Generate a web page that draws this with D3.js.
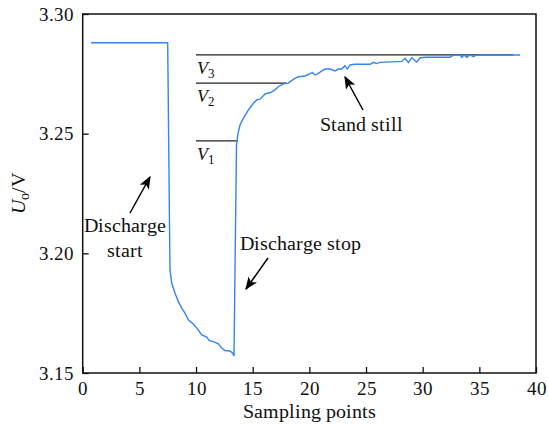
<!DOCTYPE html>
<html>
<head>
<meta charset="utf-8">
<script src="https://cdn.jsdelivr.net/npm/d3@7"></script>
<style>
  @font-face { font-family: "ChartSerif"; font-style: normal; font-weight: 400;
    src: local("Liberation Serif"), local("LiberationSerif"), local("Tinos"), local("Times New Roman"); }
  @font-face { font-family: "ChartSerif"; font-style: italic; font-weight: 400;
    src: local("Liberation Serif Italic"), local("LiberationSerif-Italic"), local("Tinos Italic"), local("Times New Roman Italic"); }
  body { margin: 0; background: #fff; }
  #chart text { font-family: ChartSerif, "Liberation Serif", serif; }
</style>
</head>
<body>
<svg id="chart" width="548" height="425"></svg>
<script>
// sampled voltage curve (x = sampling point, v = volts)
var sampleX = [0.73, 7.50, 7.70, 7.86, 8.15, 8.44, 8.74, 9.03, 9.32, 9.76, 10.20, 10.50, 10.94, 11.17, 11.53, 11.97,
  12.27, 12.56, 13.00, 13.24, 13.35, 13.57, 13.70, 13.88, 14.17, 14.62, 15.06, 15.36, 15.65, 16.09, 16.53, 16.97,
  17.26, 17.71, 18.15, 18.59, 19.03, 19.62, 19.97, 20.27, 20.50, 20.80, 21.10, 21.39, 21.83, 22.27, 22.56, 22.86,
  23.15, 23.35, 23.59, 24.03, 25.36, 25.65, 25.93, 26.24, 28.16, 28.45, 28.74, 29.04, 29.48, 29.77, 30.36, 32.42,
  32.71, 33.30, 33.45, 33.65, 33.89, 34.18, 34.47, 34.77, 38.60];
var voltage = [3.2880, 3.2880, 3.1931, 3.1875, 3.1833, 3.1798, 3.1771, 3.1750, 3.1722, 3.1705, 3.1680, 3.1659, 3.1650, 3.1635, 3.1631, 3.1622,
  3.1604, 3.1594, 3.1592, 3.1583, 3.1571, 3.2453, 3.2500, 3.2536, 3.2564, 3.2599, 3.2627, 3.2641, 3.2644, 3.2666, 3.2671, 3.2683,
  3.2696, 3.2708, 3.2711, 3.2727, 3.2738, 3.2741, 3.2749, 3.2755, 3.2745, 3.2752, 3.2762, 3.2770, 3.2770, 3.2762, 3.2770, 3.2770,
  3.2784, 3.2770, 3.2787, 3.2790, 3.2790, 3.2798, 3.2793, 3.2798, 3.2802, 3.2815, 3.2797, 3.2817, 3.2799, 3.2817, 3.2819, 3.2819,
  3.2829, 3.2829, 3.2819, 3.2829, 3.2819, 3.2829, 3.2822, 3.2829, 3.2829];

// reference levels V1..V3
var refNames = ["1", "2", "3"];
var refLevel = [3.2470, 3.2711, 3.2829];
var refStart = [10.0, 10.0, 10.0];
var refEnd = [13.7, 18.0, 38.0];

var xTicks = [0, 5, 10, 15, 20, 25, 30, 35, 40];
var yTicks = [3.15, 3.20, 3.25, 3.30];

var W = 548, H = 425;
var m = { left: 82.7, right: W - 536, top: 14, bottom: H - 373 };

var svg = d3.select("#chart");
var x = d3.scaleLinear().domain([0, 40]).range([m.left, W - m.right]);
var y = d3.scaleLinear().domain([3.15, 3.30]).range([H - m.bottom, m.top]);

// frame
svg.append("rect")
  .attr("x", x(0)).attr("y", y(3.30))
  .attr("width", x(40) - x(0)).attr("height", y(3.15) - y(3.30))
  .style("fill", "none").style("stroke", "#111").style("stroke-width", 1.5);

var xAxis = svg.append("g")
  .attr("transform", "translate(0," + y(3.15) + ")")
  .call(d3.axisBottom(x).tickValues(xTicks).tickSize(-6).tickPadding(9).tickFormat(d3.format("d")));
var yAxis = svg.append("g")
  .attr("transform", "translate(" + x(0) + ",0)")
  .call(d3.axisLeft(y).tickValues(yTicks).tickSize(-6).tickPadding(9).tickFormat(d3.format(".2f")));
[xAxis, yAxis].forEach(function(a) {
  a.attr("font-family", null).attr("font-size", null);
  a.select(".domain").remove();
  a.selectAll(".tick line").style("stroke", "#111").style("stroke-width", 1.3);
  a.selectAll(".tick text").style("font-size", "19px").attr("fill", "#111");
});

// reference lines
refLevel.forEach(function(v, i) {
  svg.append("line")
    .attr("x1", x(refStart[i])).attr("x2", x(refEnd[i]))
    .attr("y1", y(v)).attr("y2", y(v))
    .style("stroke", "#222").style("stroke-width", 1.3);
  var t = svg.append("text")
    .attr("x", x(refStart[i]) + 1).attr("y", y(v) + 19)
    .style("font-size", "18px").attr("fill", "#111");
  t.append("tspan").style("font-style", "italic").text("V");
  t.append("tspan").attr("dy", 4).style("font-size", "13px").text(refNames[i]);
});

// curve
var line = d3.line().x(function(d) { return x(d[0]); }).y(function(d) { return y(d[1]); });
svg.append("path")
  .datum(d3.zip(sampleX, voltage))
  .attr("d", line)
  .style("fill", "none").style("stroke", "#3584f2").style("stroke-width", 1.4);

// arrows
svg.append("defs").append("marker")
  .attr("id", "head").attr("viewBox", "0 0 10 10")
  .attr("refX", 9).attr("refY", 5)
  .attr("markerWidth", 13).attr("markerHeight", 13).attr("markerUnits", "userSpaceOnUse")
  .attr("orient", "auto")
  .append("path").attr("d", "M0,1 L10,5 L0,9 L2.5,5 Z").style("fill", "#000");

var arrows = [[130, 213, 150, 177], [268, 258, 246, 289], [363, 110, 345, 77]];
arrows.forEach(function(a) {
  svg.append("line")
    .attr("x1", a[0]).attr("y1", a[1]).attr("x2", a[2]).attr("y2", a[3])
    .attr("marker-end", "url(#head)")
    .style("stroke", "#000").style("stroke-width", 1.5);
});

// annotation text
function label(tx, ty, s, anchor) {
  svg.append("text").attr("x", tx).attr("y", ty)
    .attr("text-anchor", anchor || "start")
    .style("font-size", "20px").attr("fill", "#111")
    .text(s);
}
label(125, 232, "Discharge", "middle");
label(125, 257, "start", "middle");
label(240, 250, "Discharge stop");
label(320, 131, "Stand still");

// axis titles
label(309, 418, "Sampling points", "middle");
var yl = svg.append("text")
  .attr("transform", "translate(25,193) rotate(-90)")
  .attr("text-anchor", "middle")
  .style("font-size", "20px").attr("fill", "#111");
yl.append("tspan").style("font-style", "italic").text("U");
yl.append("tspan").attr("dy", 4).style("font-size", "14px").text("o");
yl.append("tspan").attr("dy", -4).text("/V");
</script>
</body>
</html>
